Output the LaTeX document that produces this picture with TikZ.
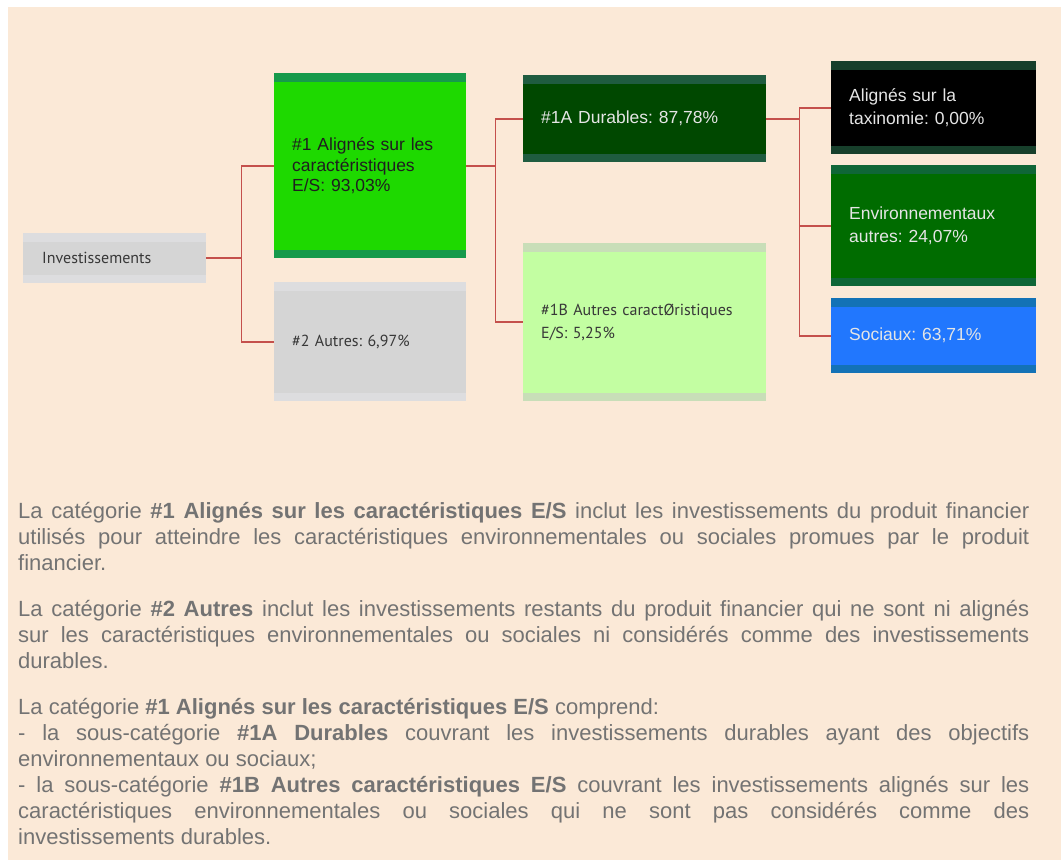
\documentclass[tikz,border=0pt]{standalone}
\usepackage{fontspec}
\setmainfont{Liberation Sans}
\newfontfamily\narrowfont{PT Sans}
\usepackage{xcolor}
\usetikzlibrary{positioning,calc}
\frenchspacing

\definecolor{peach}{HTML}{FBE9D7}
\definecolor{linkred}{HTML}{C4504C}
\definecolor{bodygray}{HTML}{737373}
\definecolor{invband}{HTML}{DDDDDF}
\definecolor{invmain}{HTML}{D5D5D5}
\definecolor{onebandc}{HTML}{169A4B}
\definecolor{onemain}{HTML}{1ED900}
\definecolor{aband}{HTML}{1F5C40}
\definecolor{amain}{HTML}{004800}
\definecolor{bband}{HTML}{C8DEB8}
\definecolor{bmain}{HTML}{C3FEA2}
\definecolor{taxband}{HTML}{173F2B}
\definecolor{taxmain}{HTML}{000000}
\definecolor{envband}{HTML}{0F6637}
\definecolor{envmain}{HTML}{006C00}
\definecolor{socband}{HTML}{1372B6}
\definecolor{socmain}{HTML}{2177FE}

\begin{document}
\frenchspacing
\begin{tikzpicture}[
  x=1pt, y=-1pt,
  catbox/.style 2 args={anchor=north west, inner xsep=18pt, inner ysep=0pt,
    align=left, fill=#1,
    path picture={\fill[#2] ([yshift=-8.5pt]path picture bounding box.north west)
      rectangle ([yshift=8.5pt]path picture bounding box.south east);}},
  wide/.style={font=\frenchspacing\fontsize{17.5}{20.5}\selectfont},
  narrow/.style={font=\frenchspacing\narrowfont\fontsize{16}{23}\selectfont, text=black!78},
  light/.style={text=white!90!black},
  link/.style={draw=linkred, line width=1.8pt},
  para/.style={anchor=base west, inner sep=0pt, text width=1011pt, align=justify,
    font=\frenchspacing\fontsize{22}{26}\selectfont, text=bodygray}
]
\useasboundingbox (0,0) rectangle (1061,867);
\fill[white] (0,0) rectangle (1061,867);
\fill[peach] (8,7) rectangle (1061,860);

% tree of boxes
\node[catbox={invband}{invmain}, narrow, text width=145pt, minimum height=50pt,
  inner xsep=19pt] (inv) at (23,233) {Investissements};
\node[catbox={onebandc}{onemain}, wide, text=black!88, text width=156pt,
  minimum height=185pt] (c1) at (274,73) {\#1 Alignés sur les\\caractéristiques\\E/S: 93,03\%};
\node[catbox={invband}{invmain}, narrow, text width=156pt,
  minimum height=119pt] (c2) at (274,282) {\#2 Autres: 6,97\%};
\node[catbox={aband}{amain}, wide, light, text width=207pt,
  minimum height=87pt] (a1) at (523,75) {\#1A Durables: 87,78\%};
\node[catbox={bband}{bmain}, narrow, text width=207pt,
  minimum height=158pt] (b1) at (523,243) {\#1B Autres caractØristiques\\E/S: 5,25\%};
\node[catbox={taxband}{taxmain}, wide, light, text width=169pt,
  minimum height=93pt, font=\frenchspacing\fontsize{17.5}{23.5}\selectfont] (tax) at (831,61) {Alignés sur la\\taxinomie: 0,00\%};
\node[catbox={envband}{envmain}, wide, light, text width=169pt,
  minimum height=121pt, font=\frenchspacing\fontsize{17.5}{23.5}\selectfont] (env) at (831,165) {Environnementaux\\autres: 24,07\%};
\node[catbox={socband}{socmain}, wide, light, text width=169pt,
  minimum height=75pt] (soc) at (831,298) {Sociaux: 63,71\%};

% connectors
\coordinate (j1) at ([xshift=35pt]inv.east);
\coordinate (j2) at ([xshift=29pt]c1.east);
\coordinate (j3) at ([xshift=33pt]a1.east);
\draw[link] (inv.east) -- (j1) |- (c1.west);
\draw[link] (j1) |- (c2.west);
\draw[link] (c1.east) -- (j2) |- (a1.west);
\draw[link] (j2) |- (b1.west);
\draw[link] (a1.east) -- (j3) |- (tax.west);
\draw[link] (j3) |- (env.west);
\draw[link] (j3) |- (soc.west);

% explanations
\node[para] (p1) at (18,518) {La catégorie \textbf{\#1 Alignés sur les caractéristiques E/S} inclut les investissements du produit financier\linebreak
utilisés pour atteindre les caractéristiques environnementales ou sociales promues par le produit\linebreak
financier.};
\node[para] (p2) at (18,616) {La catégorie \textbf{\#2 Autres} inclut les investissements restants du produit financier qui ne sont ni alignés\linebreak
sur les caractéristiques environnementales ou sociales ni considérés comme des investissements\linebreak
durables.};
\node[para] (p3) at (18,714) {La catégorie \textbf{\#1 Alignés sur les caractéristiques E/S} comprend:\\
- la sous-catégorie \textbf{\#1A Durables} couvrant les investissements durables ayant des objectifs\linebreak
environnementaux ou sociaux;\\
- la sous-catégorie \textbf{\#1B Autres caractéristiques E/S} couvrant les investissements alignés sur les\linebreak
caractéristiques environnementales ou sociales qui ne sont pas considérés comme des\linebreak
investissements durables.};
\end{tikzpicture}
\end{document}
